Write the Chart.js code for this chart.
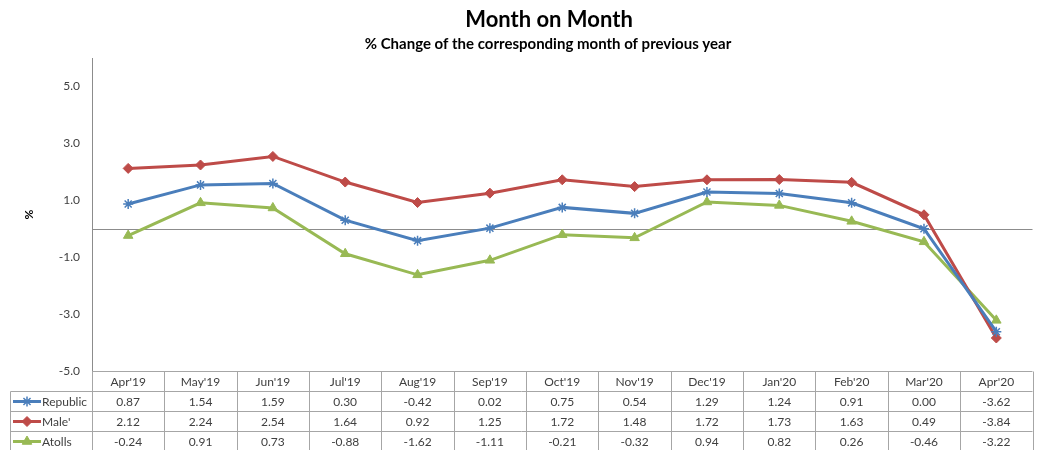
<!DOCTYPE html>
<html><head><meta charset="utf-8">
<script src="https://cdn.jsdelivr.net/npm/chart.js@4.4.1/dist/chart.umd.min.js"></script>
<style>html,body{margin:0;padding:0;background:#fff}canvas{display:block}</style>
</head>
<body>
<canvas id="c" width="1039" height="450"></canvas>
<script>
const categories = ["Apr'19","May'19","Jun'19","Jul'19","Aug'19","Sep'19","Oct'19","Nov'19","Dec'19","Jan'20","Feb'20","Mar'20","Apr'20"];
const republic = [0.87,1.54,1.59,0.30,-0.42,0.02,0.75,0.54,1.29,1.24,0.91,0.00,-3.62];
const male = [2.12,2.24,2.54,1.64,0.92,1.25,1.72,1.48,1.72,1.73,1.63,0.49,-3.84];
const atolls = [-0.24,0.91,0.73,-0.88,-1.62,-1.11,-0.21,-0.32,0.94,0.82,0.26,-0.46,-3.22];
const seriesNames = ["Republic","Male'","Atolls"];
const yTickValues = [-5,-3,-1,1,3,5];
const titleText = 'Month on Month';
const subtitleText = '% Change of the corresponding month of previous year';

const FONT = "Lato, 'Open Sans', sans-serif";
const TXT = '#404040';
const GRID = '#A6A6A6';

const titles = {
  id: 'titles',
  afterDraw(chart) {
    const {ctx} = chart;
    ctx.save();
    ctx.fillStyle = '#000';
    ctx.textAlign = 'center';
    ctx.textBaseline = 'middle';
    ctx.font = 'bold 22px ' + FONT;
    ctx.fillText(titleText, 549, 20);
    ctx.font = 'bold 15px ' + FONT;
    ctx.fillText(subtitleText, 548, 44);
    ctx.restore();
  }
};

const zeroLine = {
  id: 'zeroLine',
  beforeDatasetsDraw(chart) {
    const {ctx, chartArea: a, scales: {y}} = chart;
    const y0 = Math.round(y.getPixelForValue(0)) + 0.5;
    ctx.save();
    ctx.strokeStyle = '#8C8C8C';
    ctx.lineWidth = 1;
    ctx.beginPath(); ctx.moveTo(a.left, y0); ctx.lineTo(a.right, y0); ctx.stroke();
    ctx.restore();
  }
};

const dataTable = {
  id: 'dataTable',
  afterDraw(chart) {
    const {ctx, chartArea: a} = chart;
    const n = categories.length;
    const colW = (a.right - a.left) / n;
    const rowH = 20;
    const top = Math.round(a.bottom) + 0.5;
    const leftX = 10.5;
    const H = chart.height;
    ctx.save();
    ctx.strokeStyle = GRID;
    ctx.lineWidth = 1;
    ctx.beginPath();
    ctx.moveTo(a.left, top); ctx.lineTo(a.right, top);
    for (let r = 1; r <= 3; r++) {
      const yy = top + r * rowH;
      ctx.moveTo(leftX, yy); ctx.lineTo(a.right, yy);
    }
    for (let k = 0; k <= n; k++) {
      const xx = Math.round(a.left + k * colW) + 0.5;
      ctx.moveTo(xx, top); ctx.lineTo(xx, H);
    }
    ctx.moveTo(leftX, top + rowH); ctx.lineTo(leftX, H);
    ctx.stroke();

    ctx.font = '12px ' + FONT;
    ctx.fillStyle = TXT;
    ctx.textAlign = 'center';
    ctx.textBaseline = 'middle';
    const xs = chart.scales.x;
    categories.forEach((c, i) => {
      ctx.fillText(c, xs.getPixelForValue(i), top + rowH / 2 + 1);
    });
    const all = [republic, male, atolls];
    all.forEach((arr, r) => {
      const yy = top + rowH * (r + 1) + rowH / 2 + 1;
      arr.forEach((v, i) => {
        ctx.fillText(v.toFixed(2), xs.getPixelForValue(i), yy);
      });
    });
    chart.data.datasets.forEach((ds, r) => {
      const yy = top + rowH * (r + 1) + rowH / 2;
      ctx.strokeStyle = ds.borderColor;
      ctx.lineWidth = 3;
      ctx.beginPath(); ctx.moveTo(13, yy); ctx.lineTo(41, yy); ctx.stroke();
      ctx.fillStyle = ds.pointBackgroundColor;
      ctx.strokeStyle = ds.pointBorderColor;
      ctx.lineWidth = ds.pointBorderWidth;
      Chart.helpers.drawPoint(ctx, {
        pointStyle: ds.pointStyle, radius: ds.pointRadius, borderWidth: ds.pointBorderWidth, rotation: 0
      }, 27, yy);
      ctx.fillStyle = TXT;
      ctx.textAlign = 'left';
      ctx.font = '12px ' + FONT;
      ctx.fillText(seriesNames[r], 42, yy + 1);
    });
    ctx.restore();
  }
};

new Chart(document.getElementById('c'), {
  type: 'line',
  data: {
    labels: categories,
    datasets: [
      {label: seriesNames[0], data: republic, borderColor: '#4A7EBB', borderWidth: 3,
       pointStyle: 'star', pointRadius: 5, pointBorderColor: '#4A7EBB', pointBackgroundColor: '#4A7EBB', pointBorderWidth: 1.5, tension: 0},
      {label: seriesNames[1], data: male, borderColor: '#BE4B48', borderWidth: 3,
       pointStyle: 'rectRot', pointRadius: 5, pointBorderColor: '#BE4B48', pointBackgroundColor: '#BE4B48', pointBorderWidth: 1, tension: 0},
      {label: seriesNames[2], data: atolls, borderColor: '#98B954', borderWidth: 3,
       pointStyle: 'triangle', pointRadius: 5.5, pointBorderColor: '#98B954', pointBackgroundColor: '#98B954', pointBorderWidth: 1, tension: 0}
    ]
  },
  options: {
    responsive: false,
    animation: false,
    layout: {padding: {left: 0, right: 0, top: 58, bottom: 79}},
    plugins: {
      legend: {display: false},
      tooltip: {enabled: false},
      title: {display: false},
      subtitle: {display: false}
    },
    scales: {
      x: {display: false, offset: true},
      y: {
        min: -5, max: 6,
        afterBuildTicks(scale) { scale.ticks = yTickValues.map(v => ({value: v})); },
        afterFit(scale) { scale.width = 92; },
        grid: {display: false, drawTicks: false},
        border: {display: true, color: '#8C8C8C', width: 1},
        ticks: {color: TXT, padding: 12, font: {family: FONT, size: 12},
          callback: v => Number(v).toFixed(1)},
        title: {display: true, text: '%', color: '#000', font: {family: FONT, size: 12, weight: 'bold'}, padding: {top: 22}}
      }
    }
  },
  plugins: [zeroLine, dataTable, titles]
});
</script>
</body></html>
